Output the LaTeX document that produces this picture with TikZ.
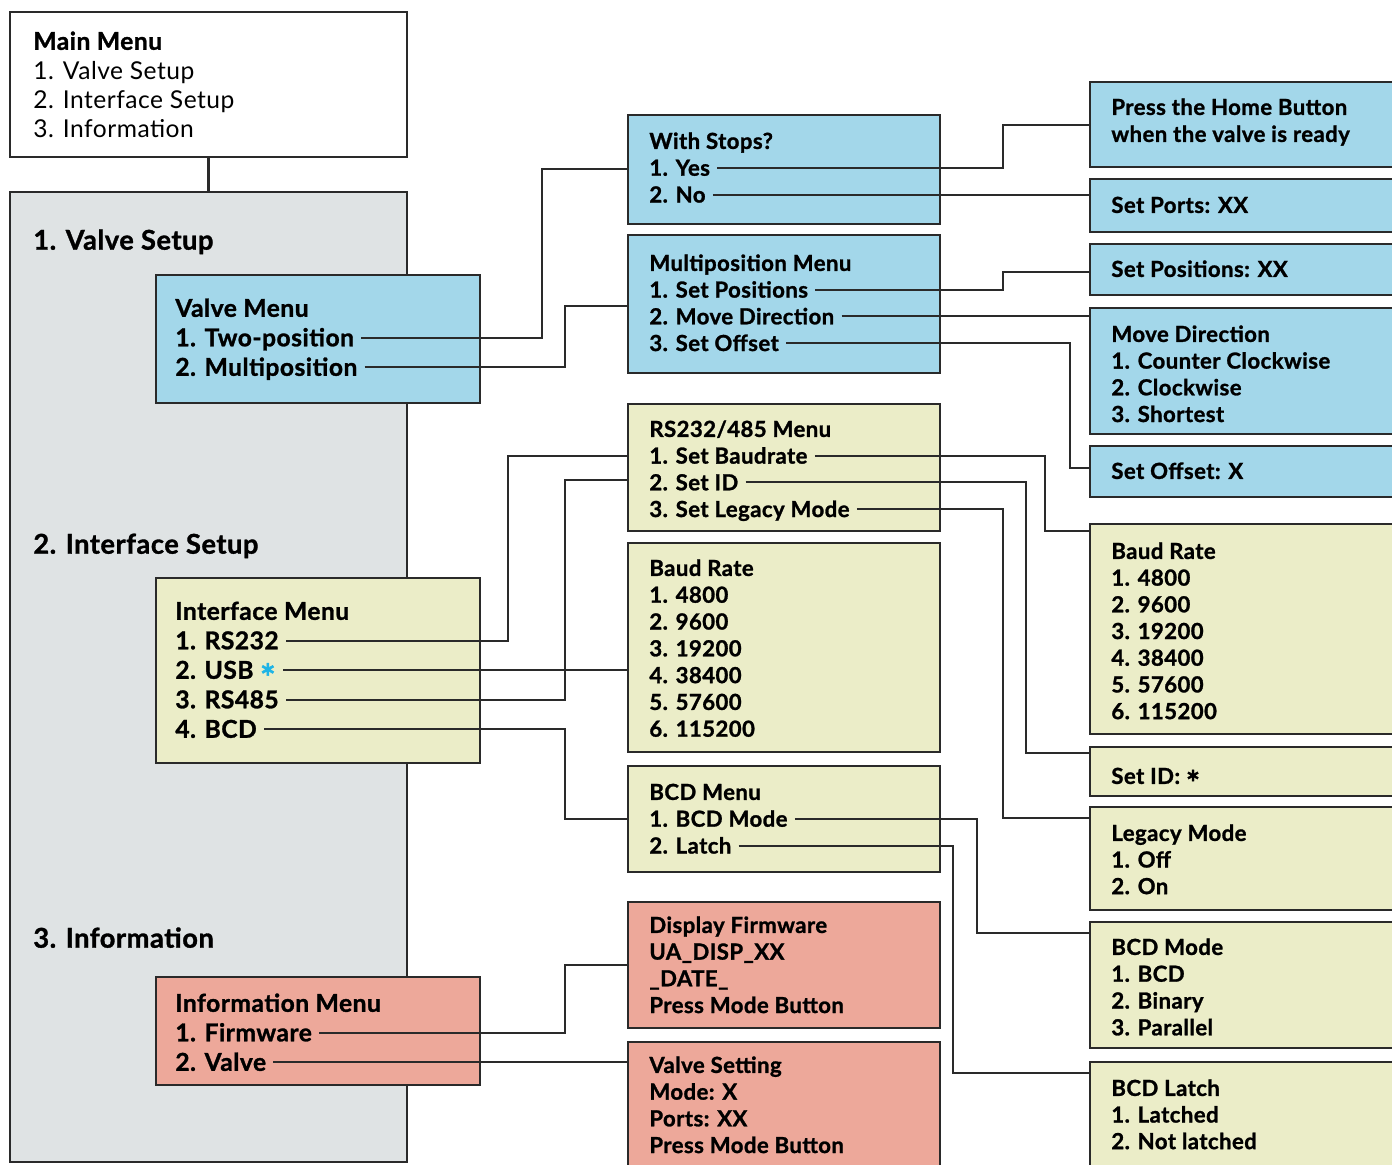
\documentclass[tikz,border=0pt]{standalone}
\usepackage{xcolor}
\usepackage{fontspec}
\setmainfont{Lato}[LetterSpace=2, BoldFeatures={FakeBold=1.2}]
\usepackage{tikz}
\usetikzlibrary{fit}

\definecolor{menuBlue}{HTML}{A3D7EA}
\definecolor{menuYellow}{HTML}{EBEDC8}
\definecolor{menuPink}{HTML}{EDA89A}
\definecolor{panelGray}{HTML}{DFE3E4}
\definecolor{edgeGray}{HTML}{2A2A2A}
\definecolor{usbStar}{HTML}{1EB4E6}

\newcommand{\midstar}{\raisebox{-0.5em}[0pt][0pt]{\scalebox{1.5}{*}}}

\begin{document}
\begin{tikzpicture}[
        x=0.02cm, y=-0.02cm,
        menuBox/.style={draw=edgeGray, line width=1.6pt, inner sep=0pt},
        blueBox/.style={menuBox, fill=menuBlue},
        yellowBox/.style={menuBox, fill=menuYellow},
        pinkBox/.style={menuBox, fill=menuPink},
        bigText/.style={anchor=west, inner xsep=4pt, inner ysep=0pt,
        text height=10pt, text depth=0pt, font=\fontsize{14}{17}\selectfont},
        headText/.style={bigText, text height=11pt, font=\fontsize{15.5}{18}\selectfont\bfseries},
        leftText/.style={bigText, font=\fontsize{14}{17}\selectfont\bfseries},
        smallText/.style={bigText, text height=9pt, font=\fontsize{12.6}{15}\selectfont\bfseries},
        link/.style={draw=edgeGray, line width=1.15pt},
    ]
    \useasboundingbox (0,0) rectangle (1392,1164);
    \clip (0,0) rectangle (1392,1164);

    % main menu and the grey panel
    \node[menuBox, fill=white, fit={(10,12) (407,157)}]    (mainMenu) {};
    \node[menuBox, fill=panelGray, fit={(10,192) (407,1162)}] (panel) {};
    \draw[link] (mainMenu.south) -- (panel.north);
    \node[bigText, font=\fontsize{14}{17}\selectfont\bfseries] (mm0) at (26,41) {Main Menu};
    \foreach \txt [count=\i] in {1. Valve Setup, 2. Interface Setup, 3. Information}
        \node[bigText] (mm\i) at (26,{41+29.4*\i}) {\txt};
    \node[headText] (valveHead)     at (26,240) {1. Valve Setup};
    \node[headText] (interfaceHead) at (26,544) {2. Interface Setup};
    \node[headText] (infoHead)      at (26,938) {3. Information};

    % menus inside the panel
    \node[blueBox,   fit={(156,275) (480,403)}]  (valveMenu) {};
    \node[yellowBox, fit={(156,578) (480,763)}]  (interfaceMenu) {};
    \node[pinkBox,   fit={(156,977) (480,1085)}] (infoMenu) {};
    \foreach \txt [count=\i from 0] in {Valve Menu, 1. Two-position, 2. Multiposition}
        \node[leftText] (vm\i) at (168,{308+29.5*\i}) {\txt};
    \foreach \txt [count=\i from 0] in {Interface Menu, 1. RS232, {2. USB \textcolor{usbStar}{\midstar}}, 3. RS485, 4. BCD}
        \node[leftText] (im\i) at (168,{611+29.5*\i}) {\txt};
    \foreach \txt [count=\i from 0] in {Information Menu, 1. Firmware, 2. Valve}
        \node[leftText] (nf\i) at (168,{1003+29.5*\i}) {\txt};

    % middle column
    \node[blueBox,   fit={(628,115) (940,224)}]   (stops) {};
    \node[blueBox,   fit={(628,235) (940,373)}]   (multi) {};
    \node[yellowBox, fit={(628,404) (940,531)}]   (rsMenu) {};
    \node[yellowBox, fit={(628,543) (940,752)}]   (baudA) {};
    \node[yellowBox, fit={(628,766) (940,872)}]   (bcdMenu) {};
    \node[pinkBox,   fit={(628,902) (940,1028)}]  (firmware) {};
    \node[pinkBox,   fit={(628,1042) (940,1175)}] (valveSet) {};
    \foreach \txt [count=\i from 0] in {With Stops?, 1. Yes, 2. No}
        \node[smallText] (ws\i) at (642,{141+26.8*\i}) {\txt};
    \foreach \txt [count=\i from 0] in {Multiposition Menu, 1. Set Positions, 2. Move Direction, 3. Set Offset}
        \node[smallText] (mp\i) at (642,{263+26.7*\i}) {\txt};
    \foreach \txt [count=\i from 0] in {RS232/485 Menu, 1. Set Baudrate, 2. Set ID, 3. Set Legacy Mode}
        \node[smallText] (rs\i) at (642,{429+26.7*\i}) {\txt};
    \foreach \txt [count=\i from 0] in {Baud Rate, 1. 4800, 2. 9600, 3. 19200, 4. 38400, 5. 57600, 6. 115200}
        \node[smallText] (ba\i) at (642,{568+26.8*\i}) {\txt};
    \foreach \txt [count=\i from 0] in {BCD Menu, 1. BCD Mode, 2. Latch}
        \node[smallText] (bm\i) at (642,{792+26.8*\i}) {\txt};
    \foreach \txt [count=\i from 0] in {Display Firmware, UA\_DISP\_XX, \_DATE\_, Press Mode Button}
        \node[smallText] (df\i) at (642,{925+26.7*\i}) {\txt};
    \foreach \txt [count=\i from 0] in {Valve Setting, Mode: X, Ports: XX, Press Mode Button}
        \node[smallText] (vs\i) at (642,{1065+26.7*\i}) {\txt};

    % right column, open to the right edge
    \node[blueBox,   fit={(1090,82) (1410,167)}]    (home) {};
    \node[blueBox,   fit={(1090,179) (1410,232)}]   (ports) {};
    \node[blueBox,   fit={(1090,244) (1410,295)}]   (positions) {};
    \node[blueBox,   fit={(1090,308) (1410,434)}]   (moveDir) {};
    \node[blueBox,   fit={(1090,446) (1410,497)}]   (offset) {};
    \node[yellowBox, fit={(1090,524) (1410,734)}]   (baudB) {};
    \node[yellowBox, fit={(1090,747) (1410,796)}]   (setId) {};
    \node[yellowBox, fit={(1090,807) (1410,910)}]   (legacy) {};
    \node[yellowBox, fit={(1090,922) (1410,1048)}]  (bcdMode) {};
    \node[yellowBox, fit={(1090,1062) (1410,1175)}] (latch) {};
    \foreach \txt [count=\i from 0] in {Press the Home Button, when the valve is ready}
        \node[smallText] (ph\i) at (1104,{107+27*\i}) {\txt};
    \node[smallText] (sp0) at (1104,205) {Set Ports: XX};
    \node[smallText] (so0) at (1104,269) {Set Positions: XX};
    \foreach \txt [count=\i from 0] in {Move Direction, 1. Counter Clockwise, 2. Clockwise, 3. Shortest}
        \node[smallText] (md\i) at (1104,{334+26.7*\i}) {\txt};
    \node[smallText] (of0) at (1104,471) {Set Offset: X};
    \foreach \txt [count=\i from 0] in {Baud Rate, 1. 4800, 2. 9600, 3. 19200, 4. 38400, 5. 57600, 6. 115200}
        \node[smallText] (bb\i) at (1104,{551+26.7*\i}) {\txt};
    \node[smallText] (id0) at (1104,776) {Set ID: \midstar};
    \foreach \txt [count=\i from 0] in {Legacy Mode, 1. Off, 2. On}
        \node[smallText] (lm\i) at (1104,{833+26.6*\i}) {\txt};
    \foreach \txt [count=\i from 0] in {BCD Mode, 1. BCD, 2. Binary, 3. Parallel}
        \node[smallText] (bd\i) at (1104,{947+26.8*\i}) {\txt};
    \foreach \txt [count=\i from 0] in {BCD Latch, 1. Latched, 2. Not latched}
        \node[smallText] (bl\i) at (1104,{1088+26.6*\i}) {\txt};

    % connectors
    \draw[link] (vm1.east) -| (542,169) -- (stops.west |- 0,169);
    \draw[link] (vm2.east) -| (565,306) -- (multi.west |- 0,306);
    \draw[link] (ws1.east) -| (1003,125) -- (home.west |- 0,125);
    \draw[link] (ws2.east) -- (ports.west |- ws2);
    \draw[link] (mp1.east) -| (1003,272) -- (positions.west |- 0,272);
    \draw[link] (mp2.east) -- (moveDir.west |- mp2);
    \draw[link] (mp3.east) -| (1070,468) -- (offset.west |- 0,468);
    \draw[link] (im1.east) -| (508,456) -- (rsMenu.west |- 0,456);
    \draw[link] (im2.east) -- (baudA.west |- im2);
    \draw[link] (im3.east) -| (565,480) -- (rsMenu.west |- 0,480);
    \draw[link] (im4.east) -| (565,819) -- (bcdMenu.west |- 0,819);
    \draw[link] (rs1.east) -| (1045,531) -- (baudB.west |- 0,531);
    \draw[link] (rs2.east) -| (1026,753) -- (setId.west |- 0,753);
    \draw[link] (rs3.east) -| (1003,818) -- (legacy.west |- 0,818);
    \draw[link] (bm1.east) -| (977,933) -- (bcdMode.west |- 0,933);
    \draw[link] (bm2.east) -| (953,1073) -- (latch.west |- 0,1073);
    \draw[link] (nf1.east) -| (565,965) -- (firmware.west |- 0,965);
    \draw[link] (nf2.east) -- (valveSet.west |- nf2);
\end{tikzpicture}
\end{document}
